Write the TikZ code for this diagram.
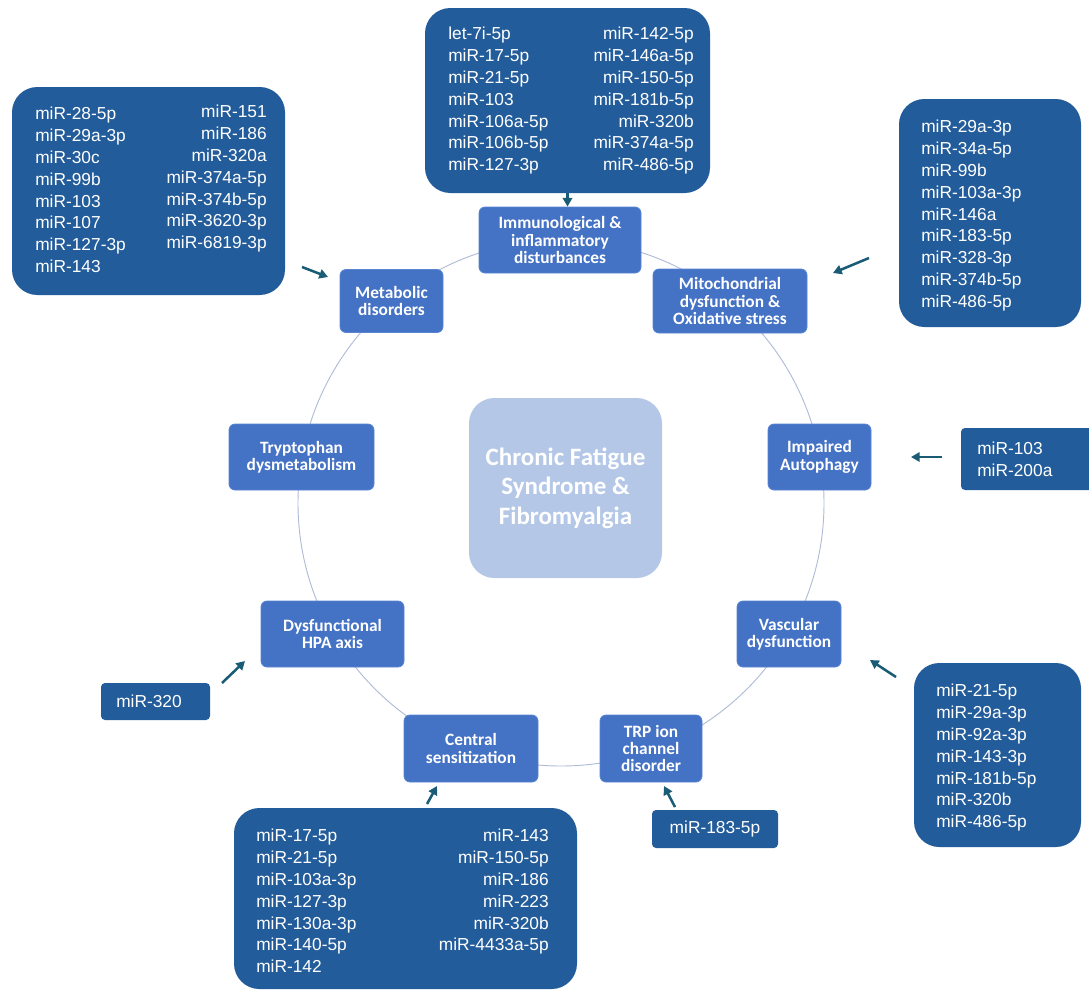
\documentclass[tikz,border=0pt]{standalone}
\usepackage{fontspec}
\setmainfont{Liberation Sans}
\newfontfamily\mirfont{Liberation Sans}
\newfontfamily\topfont{Carlito}
\usetikzlibrary{arrows.meta}
\definecolor{topicblue}{RGB}{68,114,196}
\definecolor{topicedge}{RGB}{88,132,210}
\definecolor{mirblue}{RGB}{35,92,154}
\definecolor{centerblue}{RGB}{180,199,231}
\definecolor{ringcol}{RGB}{176,188,214}
\definecolor{arrowcol}{RGB}{26,92,118}
\tikzset{
  topic/.style={draw=topicedge, line width=0.6pt, fill=topicblue, rounded corners=4.5pt, text=white,
    font=\topfont\bfseries\fontsize{13}{13}\selectfont, align=center, inner sep=2pt},
  mirbox/.style={fill=mirblue, rounded corners=19pt, inner sep=0pt},
  smallbox/.style={fill=mirblue, rounded corners=3pt, inner sep=0pt, text=white,
    font=\mirfont\fontsize{13}{16.35}\selectfont},
  mirtext/.style={text=white, font=\mirfont\fontsize{13}{16.35}\selectfont, inner sep=0pt},
  centerbox/.style={fill=centerblue, rounded corners=19pt, text=white,
    font=\topfont\bfseries\fontsize{18.75}{22}\selectfont, align=center},
  ring/.style={draw=ringcol, line width=0.7pt},
  arr/.style={draw=arrowcol, line width=1.9pt, -{Triangle[length=6.5pt,width=7pt]}}
}
\begin{document}
\begin{tikzpicture}[x=0.75pt,y=-0.75pt]
\useasboundingbox (0,0) rectangle (1089,990);
\begin{scope}
\clip (0,0) rectangle (1089,990);
% ring
\draw[ring] (561,503) circle [radius=197.25pt];

% central box
\node[centerbox, minimum width=144.75pt, minimum height=135pt] (cfs) at (565.5,488) {Chronic Fatigue\\Syndrome \&\\Fibromyalgia};

% topic nodes
\node[topic, minimum width=121.5pt, minimum height=49.5pt] (imm) at (560,240) {Immunological \&\\inflammatory\\disturbances};
\node[topic, minimum width=77.25pt, minimum height=47.25pt] (met) at (391.5,301) {Metabolic\\disorders};
\node[topic, minimum width=115.5pt, minimum height=48pt] (mito) at (730,301) {Mitochondrial\\dysfunction \&\\Oxidative stress};
\node[topic, minimum width=77.25pt, minimum height=49.5pt] (aut) at (819.5,457) {Impaired\\Autophagy};
\node[topic, minimum width=108.75pt, minimum height=49.5pt] (try) at (301.5,457) {Tryptophan\\dysmetabolism};
\node[topic, minimum width=107.25pt, minimum height=49.5pt] (hpa) at (332.5,634) {Dysfunctional\\HPA axis};
\node[topic, minimum width=78pt, minimum height=49.5pt] (vasc) at (789,634) {Vascular\\dysfunction};
\node[topic, minimum width=100.5pt, minimum height=50.25pt] (cen) at (471,748.5) {Central\\sensitization};
\node[topic, minimum width=76.5pt, minimum height=50.25pt] (trp) at (651,748.5) {TRP ion\\channel\\disorder};

% miRNA boxes
\node[mirbox, minimum width=213.75pt, minimum height=138.75pt] (immbox) at (567.5,100.5) {};
\node[mirtext, anchor=north west, align=left] (immL) at (448,27) {let-7i-5p\\miR-17-5p\\miR-21-5p\\miR-103\\miR-106a-5p\\miR-106b-5p\\miR-127-3p};
\node[mirtext, anchor=north east, align=right] (immR) at (694,27) {miR-142-5p\\miR-146a-5p\\miR-150-5p\\miR-181b-5p\\miR-320b\\miR-374a-5p\\miR-486-5p};

\node[mirbox, minimum width=204.75pt, minimum height=156pt] (metbox) at (148.5,191) {};
\node[mirtext, anchor=north west, align=left] (metL) at (35,107) {miR-28-5p\\miR-29a-3p\\miR-30c\\miR-99b\\miR-103\\miR-107\\miR-127-3p\\miR-143};
\node[mirtext, anchor=north east, align=right] (metR) at (267,105) {miR-151\\miR-186\\miR-320a\\miR-374a-5p\\miR-374b-5p\\miR-3620-3p\\miR-6819-3p};

\node[mirbox, minimum width=136.5pt, minimum height=171pt] (mitobox) at (990,213) {};
\node[mirtext, anchor=north west, align=left] (mitoL) at (921,120) {miR-29a-3p\\miR-34a-5p\\miR-99b\\miR-103a-3p\\miR-146a\\miR-183-5p\\miR-328-3p\\miR-374b-5p\\miR-486-5p};

\node[smallbox, minimum width=104.25pt, minimum height=46.5pt] (autbox) at (1030.5,459) {};
\node[mirtext, anchor=north west, align=left] (autL) at (977,442) {miR-103\\miR-200a};

\node[mirbox, minimum width=125.25pt, minimum height=138pt] (vascbox) at (997.5,755) {};
\node[mirtext, anchor=north west, align=left] (vascL) at (936,684) {miR-21-5p\\miR-29a-3p\\miR-92a-3p\\miR-143-3p\\miR-181b-5p\\miR-320b\\miR-486-5p};

\node[smallbox, minimum width=94.5pt, minimum height=28.5pt] (trpbox) at (715,829) {miR-183-5p};

\node[mirbox, minimum width=257.25pt, minimum height=135.75pt] (cenbox) at (405.5,898.5) {};
\node[mirtext, anchor=north west, align=left] (cenL) at (256,829) {miR-17-5p\\miR-21-5p\\miR-103a-3p\\miR-127-3p\\miR-130a-3p\\miR-140-5p\\miR-142};
\node[mirtext, anchor=north east, align=right] (cenR) at (549,829) {miR-143\\miR-150-5p\\miR-186\\miR-223\\miR-320b\\miR-4433a-5p};

\node[smallbox, minimum width=81.75pt, minimum height=27.75pt] (hpabox) at (155.5,701.5) {};
\node[mirtext, anchor=west] (hpaL) at (116,701.5) {miR-320};

% arrow end points
\coordinate (a1s) at (302,267); \coordinate (a1e) at (328,277);
\coordinate (a2s) at (869,258); \coordinate (a2e) at (833,273);
\coordinate (a3s) at (942,457); \coordinate (a3e) at (911,457);
\coordinate (a4s) at (896,677); \coordinate (a4e) at (870,660);
\coordinate (a5s) at (675,807); \coordinate (a5e) at (664,786);
\coordinate (a6s) at (427,804); \coordinate (a6e) at (437,786);
\coordinate (a7s) at (222,683); \coordinate (a7e) at (245,661);

\draw[arr] (immbox.south) -- (immbox.south |- imm.north);
\draw[arr] (a1s) -- (a1e);
\draw[arr] (a2s) -- (a2e);
\draw[arr] (a3s) -- (a3e);
\draw[arr] (a4s) -- (a4e);
\draw[arr] (a5s) -- (a5e);
\draw[arr] (a6s) -- (a6e);
\draw[arr] (a7s) -- (a7e);
\end{scope}
\end{tikzpicture}
\end{document}
